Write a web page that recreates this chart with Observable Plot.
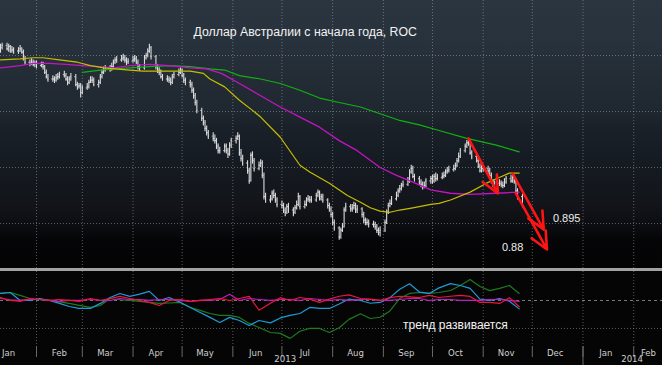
<!DOCTYPE html>
<html><head><meta charset="utf-8">
<script src="https://cdn.jsdelivr.net/npm/d3@7"></script>
<script src="https://cdn.jsdelivr.net/npm/@observablehq/plot@0.6"></script>
<style>
html,body{margin:0;padding:0;background:#000;overflow:hidden;}
#wrap{width:662px;height:365px;position:relative;background:#000;}
#sep{height:3px;background:#a2a2a2;}
svg{display:block}
</style></head><body><div id="wrap"><div id="top"></div><div id="sep"></div><div id="bot"></div></div>
<script>
// ---------- DATA ----------
const title = "Доллар Австралии с начала года, ROC";
const trendNote = "тренд развивается";
const firstOpen = 1.054;
// daily closes (trading days from 2013-01-10 to 2013-11-25), one row per week
const closes = [
 1.057,1.059,
 1.056,1.058,1.054,1.055,1.054,
 1.054,1.056,1.053,1.047,1.044,
 1.043,1.044,1.042,1.043,1.041,
 1.042,1.040,1.035,1.031,1.029,
 1.029,1.028,1.030,1.031,1.033,
 1.032,1.029,1.026,1.029,1.031,
 1.024,1.022,1.023,1.017,1.021,
 1.022,1.026,1.028,1.028,1.024,
 1.026,1.031,1.035,1.037,1.039,
 1.038,1.040,1.044,1.046,1.046,
 1.047,1.048,1.046,1.044,1.045,
 1.046,1.047,1.044,1.040,1.039,
 1.048,1.050,1.054,1.057,1.049,
 1.040,1.037,1.035,1.031,1.029,
 1.029,1.028,1.026,1.031,1.033,
 1.035,1.037,1.032,1.028,1.026,
 1.024,1.019,1.014,1.008,1.001,
 0.994,0.990,0.985,0.981,0.978,
 0.976,0.974,0.969,0.965,0.965,
 0.969,0.965,0.962,0.970,0.974,
 0.976,0.978,0.963,0.958,0.954,
 0.947,0.938,0.961,0.956,0.949,
 0.952,0.954,0.943,0.924,0.921,
 0.922,0.927,0.925,0.921,0.917,
 0.916,0.912,0.910,0.915,0.912,
 0.910,0.914,0.917,0.924,0.915,
 0.917,0.921,0.922,0.921,0.921,
 0.925,0.928,0.922,0.924,0.921,
 0.916,0.913,0.908,0.901,0.896,
 0.888,0.894,0.897,0.912,0.915,
 0.913,0.914,0.916,0.912,0.913,
 0.908,0.903,0.901,0.901,0.899,
 0.899,0.897,0.894,0.892,0.894,
 0.901,0.910,0.916,0.918,0.922,
 0.925,0.929,0.931,0.934,0.935,
 0.938,0.946,0.949,0.942,0.940,
 0.937,0.935,0.933,0.934,0.938,
 0.940,0.938,0.942,0.940,0.941,
 0.942,0.943,0.946,0.947,0.948,
 0.949,0.952,0.956,0.960,0.965,
 0.969,0.972,0.974,0.963,0.960,
 0.956,0.951,0.947,0.949,0.949,
 0.947,0.943,0.937,0.935,0.936,
 0.936,0.935,0.934,0.937,0.940,
 0.938,0.941,0.938,0.929,0.924,
 0.917
];
const highs = [
 1.060,1.061,
 1.061,1.060,1.059,1.058,1.057,
 1.057,1.059,1.057,1.055,1.049,
 1.046,1.047,1.046,1.045,1.045,
 1.044,1.044,1.041,1.037,1.033,
 1.032,1.031,1.033,1.034,1.035,
 1.036,1.034,1.031,1.031,1.034,
 1.033,1.026,1.025,1.025,1.023,
 1.025,1.028,1.031,1.031,1.030,
 1.028,1.033,1.037,1.040,1.041,
 1.041,1.043,1.046,1.048,1.049,
 1.050,1.051,1.050,1.048,1.047,
 1.049,1.050,1.049,1.046,1.042,
 1.050,1.052,1.056,1.060,1.058,
 1.050,1.042,1.039,1.037,1.033,
 1.032,1.031,1.030,1.033,1.035,
 1.038,1.039,1.038,1.034,1.030,
 1.028,1.026,1.021,1.016,1.010,
 1.003,0.996,0.992,0.987,0.983,
 0.981,0.979,0.976,0.971,0.968,
 0.971,0.971,0.967,0.972,0.976,
 0.978,0.981,0.979,0.966,0.961,
 0.956,0.949,0.963,0.964,0.958,
 0.955,0.957,0.956,0.945,0.927,
 0.925,0.929,0.930,0.927,0.923,
 0.920,0.918,0.914,0.917,0.918,
 0.914,0.916,0.920,0.927,0.925,
 0.920,0.923,0.925,0.924,0.924,
 0.927,0.930,0.929,0.926,0.926,
 0.922,0.918,0.915,0.910,0.903,
 0.897,0.896,0.900,0.914,0.918,
 0.917,0.917,0.919,0.918,0.916,
 0.914,0.910,0.905,0.904,0.903,
 0.902,0.901,0.899,0.896,0.897,
 0.903,0.912,0.918,0.921,0.924,
 0.928,0.931,0.934,0.936,0.938,
 0.941,0.948,0.952,0.951,0.944,
 0.942,0.939,0.937,0.937,0.940,
 0.942,0.943,0.944,0.945,0.944,
 0.945,0.946,0.948,0.950,0.951,
 0.952,0.954,0.958,0.963,0.967,
 0.971,0.974,0.976,0.975,0.965,
 0.962,0.958,0.953,0.952,0.952,
 0.951,0.949,0.945,0.939,0.938,
 0.939,0.938,0.937,0.940,0.942,
 0.943,0.943,0.943,0.940,0.931,
 0.926
];
const lows = [
 1.052,1.055,
 1.054,1.053,1.052,1.052,1.051,
 1.051,1.053,1.051,1.045,1.041,
 1.040,1.041,1.040,1.039,1.038,
 1.039,1.037,1.033,1.029,1.026,
 1.026,1.025,1.026,1.028,1.029,
 1.030,1.027,1.023,1.024,1.027,
 1.022,1.019,1.020,1.012,1.015,
 1.019,1.020,1.025,1.025,1.022,
 1.021,1.024,1.029,1.033,1.035,
 1.035,1.036,1.038,1.042,1.043,
 1.044,1.045,1.043,1.041,1.042,
 1.043,1.044,1.042,1.037,1.036,
 1.037,1.046,1.048,1.052,1.046,
 1.037,1.034,1.032,1.029,1.027,
 1.026,1.025,1.023,1.024,1.029,
 1.031,1.033,1.030,1.025,1.023,
 1.021,1.016,1.011,1.005,0.998,
 0.991,0.987,0.982,0.978,0.975,
 0.973,0.971,0.966,0.962,0.962,
 0.963,0.962,0.958,0.960,0.967,
 0.971,0.974,0.960,0.955,0.951,
 0.944,0.935,0.937,0.953,0.946,
 0.947,0.950,0.940,0.921,0.918,
 0.918,0.920,0.922,0.918,0.914,
 0.913,0.909,0.906,0.908,0.909,
 0.906,0.908,0.912,0.915,0.912,
 0.913,0.915,0.919,0.918,0.918,
 0.919,0.923,0.920,0.920,0.918,
 0.913,0.910,0.905,0.898,0.893,
 0.885,0.886,0.892,0.896,0.910,
 0.910,0.910,0.912,0.909,0.909,
 0.905,0.900,0.898,0.898,0.896,
 0.896,0.894,0.891,0.889,0.888,
 0.892,0.899,0.908,0.914,0.916,
 0.920,0.923,0.927,0.929,0.932,
 0.933,0.936,0.944,0.940,0.937,
 0.934,0.932,0.930,0.931,0.932,
 0.935,0.935,0.936,0.937,0.938,
 0.939,0.940,0.941,0.944,0.945,
 0.946,0.947,0.950,0.954,0.958,
 0.963,0.967,0.969,0.961,0.957,
 0.954,0.949,0.945,0.945,0.946,
 0.944,0.941,0.935,0.932,0.933,
 0.933,0.932,0.931,0.932,0.935,
 0.936,0.936,0.935,0.927,0.921,
 0.914
];
// moving averages
const maYellowDates = ["2013-01-10","2013-01-22","2013-01-30","2013-02-05","2013-02-15","2013-02-26","2013-03-06","2013-03-14","2013-03-21","2013-03-30","2013-04-07","2013-04-17","2013-04-28","2013-05-06","2013-05-14","2013-05-18","2013-05-27","2013-06-05","2013-06-13","2013-06-18","2013-06-30","2013-07-12","2013-07-18","2013-07-30","2013-08-10","2013-08-18","2013-08-24","2013-08-30","2013-09-05","2013-09-11","2013-09-19","2013-09-30","2013-10-05","2013-10-12","2013-10-24","2013-11-03","2013-11-09","2013-11-17","2013-11-23"];
const maYellowValues = [1.046,1.047,1.048,1.048,1.046,1.044,1.041,1.039,1.038,1.037,1.036,1.036,1.036,1.036,1.034,1.029,1.022,1.010,1.001,0.995,0.977,0.952,0.946,0.936,0.925,0.919,0.914,0.911,0.910,0.912,0.914,0.917,0.918,0.921,0.928,0.936,0.940,0.945,0.945];
const maMagentaDates = ["2013-01-10","2013-01-22","2013-01-30","2013-02-09","2013-02-19","2013-03-01","2013-03-12","2013-03-21","2013-03-30","2013-04-11","2013-04-23","2013-05-06","2013-05-16","2013-05-25","2013-06-05","2013-06-18","2013-06-30","2013-07-12","2013-07-24","2013-08-05","2013-08-16","2013-08-30","2013-09-09","2013-09-19","2013-09-30","2013-10-12","2013-10-24","2013-11-09","2013-11-23"];
const maMagentaValues = [1.039,1.041,1.043,1.043,1.042,1.041,1.040,1.039,1.041,1.042,1.041,1.039,1.038,1.034,1.025,1.014,1.004,0.995,0.986,0.974,0.965,0.950,0.943,0.937,0.930,0.927,0.926,0.927,0.928];
const maGreenDates = ["2013-03-01","2013-03-12","2013-03-21","2013-03-30","2013-04-11","2013-04-23","2013-05-06","2013-05-18","2013-05-27","2013-06-05","2013-06-18","2013-06-30","2013-07-12","2013-07-24","2013-08-05","2013-08-18","2013-08-30","2013-09-11","2013-09-23","2013-10-05","2013-10-22","2013-11-09","2013-11-23"];
const maGreenValues = [1.035,1.037,1.038,1.039,1.040,1.041,1.040,1.038,1.037,1.032,1.029,1.025,1.019,1.012,1.008,1.004,0.998,0.992,0.988,0.983,0.976,0.970,0.964];
// ROC panel
const rocDates = ["2013-01-10","2013-01-16","2013-01-22","2013-01-28","2013-02-03","2013-02-09","2013-02-15","2013-02-21","2013-02-27","2013-03-06","2013-03-12","2013-03-18","2013-03-24","2013-03-30","2013-04-05","2013-04-11","2013-04-17","2013-04-23","2013-04-30","2013-05-06","2013-05-12","2013-05-18","2013-05-24","2013-05-30","2013-06-05","2013-06-11","2013-06-17","2013-06-24","2013-06-30","2013-07-06","2013-07-12","2013-07-18","2013-07-24","2013-07-30","2013-08-05","2013-08-11","2013-08-18","2013-08-24","2013-08-30","2013-09-05","2013-09-11","2013-09-17","2013-09-23","2013-09-29","2013-10-05","2013-10-12","2013-10-18","2013-10-24","2013-10-30","2013-11-05","2013-11-11","2013-11-17","2013-11-23"];
const rocBlue = [0.5,0.57,0,0,0.14,0,-0.21,-0.43,-0.57,-0.57,
 -0.21,0.21,0.5,0.29,0.45,0.65,0,0.21,-0.14,-0.5,
 -0.86,-1.21,-1.57,-1.21,-1.43,-1.79,-1.43,-1.6,-1.25,-1.07,
 -0.93,-0.5,-0.57,-0.57,-0.25,0.1,0,-0.2,-0.14,0.2,
 0.8,1.2,0.6,0.5,0.9,1.2,1.07,0.86,0.1,0,
 0.14,-0.05,-0.6];
const rocGreen = [0.5,0.57,0.36,0.14,0.05,0,-0.1,-0.21,-0.35,-0.5,
 -0.36,0.14,0.05,0,-0.07,-0.14,-0.21,-0.18,-0.14,-0.5,
 -0.71,-0.93,-1.07,-1.07,-1.21,-1.64,-1.93,-2.29,-2.35,-2.71,
 -2.2,-2.0,-2.0,-2.29,-1.95,-1.35,-0.95,-1.29,-1.2,-0.75,
 0.15,0.5,0.57,0.5,0.57,0.71,1.07,1.5,1.0,0.7,
 0.86,1.07,0.5];
const rocRed = [0.21,0,-0.07,0.14,0.07,0,0.07,0,-0.07,0.14,
 0,0.14,0.29,0.14,0,-0.14,-0.36,0,0.07,-0.07,
 0,0.07,0.14,0,0.14,0.29,-0.7,-0.2,0.2,0,
 0.21,0.1,-0.14,0.1,0.3,0.4,0.14,0.1,0,0.2,
 0.3,0.25,0.21,0.36,0.21,0.3,0.36,0.29,-0.14,-0.14,
 -0.21,0.2,-0.45];
const rocMagenta = [0.14,0.05,0,0.07,0.07,0,-0.07,0,0,0.07,
 0,0,0.14,0.07,0.07,0,0.07,0.07,0,-0.07,
 0,0,0.07,0.45,0,0.14,0.07,0,0.07,0.07,
 0,0.14,0.07,0,0.07,0,0.07,0.07,0,0,
 0.07,0.14,0.14,0,0.07,0.07,0,0,0,0.07,
 0.07,0,-0.07];
// annotations
const arrowStarts = [["2013-10-23",0.976],["2013-11-19",0.9446],["2013-11-21",0.9268]];
const arrowEnds   = [["2013-11-10",0.9268],["2013-12-08",0.8946],["2013-12-10",0.8768]];
const levelLabels = ["0.895","0.88"];
const levelDates  = ["2013-12-22","2013-11-19"];
const levelValues = [0.9045,0.8786];
const priceGrid = [0.90,0.95,1.00,1.05];
const monthLabelDates = ["2013-01-15","2013-02-15","2013-03-15","2013-04-15","2013-05-15","2013-06-15","2013-07-15","2013-08-15","2013-09-15","2013-10-15","2013-11-15","2013-12-15","2014-01-15","2014-02-10"];
const yearLabels = ["2013","2014"];
const yearDates = ["2013-07-03","2014-01-31"];

// ---------- BUILD ----------
const D = s => new Date(s + "T00:00:00Z");
const X0 = D("2013-01-10"), X1 = new Date("2014-02-18T14:00:00Z");
const days = d3.utcDay.range(D("2013-01-10"), D("2013-11-26")).filter(d => d.getUTCDay() !== 0 && d.getUTCDay() !== 6);
const n = Math.min(days.length, closes.length, highs.length, lows.length);
const bars = d3.range(n).map(i => ({date: days[i], open: i ? closes[i-1] : firstOpen, close: closes[i], high: highs[i], low: lows[i]}));
const ser = (ds, vs) => ds.map((d, i) => ({date: D(d), v: vs[i]}));
const yellow = ser(maYellowDates, maYellowValues);
const magenta = ser(maMagentaDates, maMagentaValues);
const green = ser(maGreenDates, maGreenValues);
const arrows = arrowStarts.map((s, i) => ({x1: D(s[0]), y1: s[1], x2: D(arrowEnds[i][0]), y2: arrowEnds[i][1]}));
const levels = levelLabels.map((t, i) => ({text: t, date: D(levelDates[i]), v: levelValues[i]}));
const monthBounds = d3.utcMonth.range(D("2013-02-01"), D("2014-02-02"));
const midMonths = monthLabelDates.map(D);
const HOUR = 3600e3;

const gridStroke = {stroke: "#9aa2aa", strokeOpacity: 0.55, strokeDasharray: "1,2"};

const topPlot = Plot.plot({
  width: 662, height: 268, margin: 0,
  x: {type: "utc", domain: [X0, X1], axis: null},
  y: {domain: [0.8598, 1.0991], axis: null},
  style: {background: "linear-gradient(to bottom, #2b3540 0px, #28323c 40px, #232c35 80px, #1f2830 110px, #1a2129 125px, #151a21 167px, #121419 207px, #0b0c10 228px, #050507 240px, #040405 268px)", fontFamily: "'Liberation Sans', Arial, sans-serif"},
  marks: [
    Plot.ruleX(monthBounds, gridStroke),
    Plot.ruleY(priceGrid, gridStroke),
    Plot.ruleX(bars, {x: "date", y1: "low", y2: "high", stroke: "#dcdcdc", strokeWidth: 1.1}),
    Plot.ruleY(bars, {y: "open", x1: d => new Date(+d.date - 14 * HOUR), x2: "date", stroke: "#dcdcdc", strokeWidth: 1}),
    Plot.ruleY(bars, {y: "close", x1: "date", x2: d => new Date(+d.date + 14 * HOUR), stroke: "#dcdcdc", strokeWidth: 1}),
    Plot.line(green, {x: "date", y: "v", stroke: "#12b012", strokeWidth: 1.2}),
    Plot.line(magenta, {x: "date", y: "v", stroke: "#c414c4", strokeWidth: 1.3}),
    Plot.line(yellow, {x: "date", y: "v", stroke: "#c6bd00", strokeWidth: 1.2}),
    Plot.arrow(arrows, {x1: "x1", y1: "y1", x2: "x2", y2: "y2", stroke: "#ff1414", strokeWidth: 2.6, headLength: 11, headAngle: 50}),
    Plot.text(levels, {x: "date", y: "v", text: "text", fill: "#eeeeee", fontSize: 11}),
    Plot.text([title], {frameAnchor: "top-left", dx: 193, dy: 27, textAnchor: "start", fill: "#f2f2f2", fontSize: 12.3})
  ]
});
document.getElementById("top").appendChild(topPlot);

const roc = (vals) => rocDates.map((d, i) => ({date: D(d), v: vals[i]}));
const botPlot = Plot.plot({
  width: 662, height: 94, marginTop: 0, marginBottom: 19, marginLeft: 0, marginRight: 0,
  x: {type: "utc", domain: [X0, X1], axis: null},
  y: {domain: [-3.29, 2.07], axis: null},
  style: {background: "#050505", fontFamily: "'Liberation Sans Narrow', 'DejaVu Sans Condensed', 'Liberation Sans', sans-serif"},
  marks: [
    Plot.ruleX(monthBounds, gridStroke),
    Plot.ruleY([0], {stroke: "#b0b0b0", strokeOpacity: 0.7, strokeDasharray: "3,3"}),
    Plot.ruleY([-2], gridStroke),
    Plot.line(roc(rocGreen), {x: "date", y: "v", stroke: "#1f7a1f", strokeWidth: 1.2}),
    Plot.line(roc(rocBlue), {x: "date", y: "v", stroke: "#1d9bd8", strokeWidth: 1.2}),
    Plot.line(roc(rocMagenta), {x: "date", y: "v", stroke: "#c41ac4", strokeWidth: 1.2}),
    Plot.line(roc(rocRed), {x: "date", y: "v", stroke: "#e8183c", strokeWidth: 1.2}),
    Plot.text([trendNote], {x: D("2013-10-15"), y: -1.79, fill: "#f2f2f2", fontSize: 12, fontFamily: "'Liberation Sans', Arial, sans-serif"}),
    Plot.axisX({ticks: monthBounds, tickSize: 11, tickFormat: () => "", stroke: "#6a6a6a"}),
    Plot.axisX({ticks: [D("2014-01-01")], tickSize: 19, tickFormat: () => "", stroke: "#6a6a6a"}),
    Plot.axisX({ticks: midMonths, tickSize: 0, tickPadding: 3, tickFormat: d3.utcFormat("%b"), fill: "#cfcfcf", fontSize: 9.5}),
    Plot.text(yearLabels, {x: (d, i) => D(yearDates[i]), frameAnchor: "bottom", dy: 15, fill: "#cfcfcf", fontSize: 9.5})
  ]
});
document.getElementById("bot").appendChild(botPlot);
</script></body></html>
